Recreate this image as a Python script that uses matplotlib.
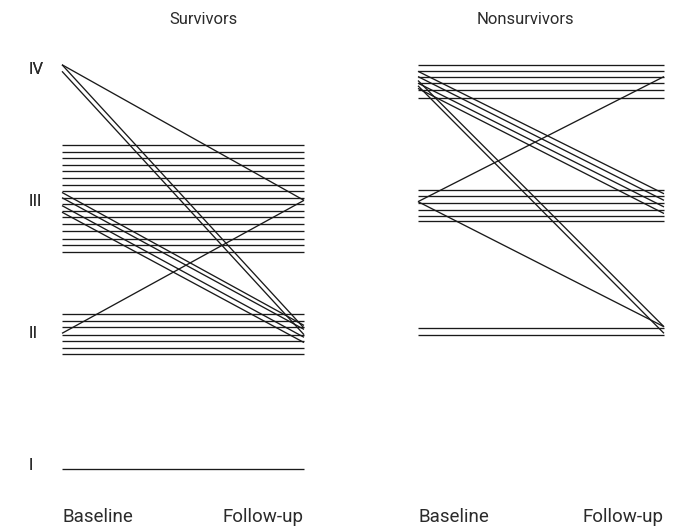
import matplotlib
matplotlib.use("Agg")
import matplotlib.pyplot as plt

plt.rcParams['font.family'] = ['Roboto', 'DejaVu Sans']

class_levels = [1, 2, 3, 4]
class_names = ['I', 'II', 'III', 'IV']
time_labels = ['Baseline', 'Follow-up']

# NYHA class per patient, baseline -> follow-up (values jittered so lines separate)
surv_base = [3.43, 3.38, 3.33, 3.28, 3.23, 3.18, 3.13, 3.08, 3.03, 2.98, 2.93,
             2.88, 2.83, 2.78, 2.72, 2.67, 2.62,
             3.07, 3.03, 2.97, 2.92,
             4.04, 4.04, 3.99,
             2.00,
             2.15, 2.09, 2.05, 1.99, 1.94, 1.89, 1.84,
             0.97]
surv_follow = [3.43, 3.38, 3.33, 3.28, 3.23, 3.18, 3.13, 3.08, 3.03, 2.98, 2.93,
               2.88, 2.83, 2.78, 2.72, 2.67, 2.62,
               2.06, 2.03, 1.97, 1.93,
               3.01, 2.04, 1.99,
               3.01,
               2.15, 2.09, 2.05, 1.99, 1.94, 1.89, 1.84,
               0.97]

nonsurv_base = [4.04, 3.99, 3.95, 3.90, 3.85, 3.79,
                3.99, 3.95, 3.90, 3.86,
                3.92, 3.88,
                3.00, 3.00,
                3.09, 3.04, 2.99, 2.94, 2.89, 2.85,
                2.04, 1.99]
nonsurv_follow = [4.04, 3.99, 3.95, 3.90, 3.85, 3.79,
                  3.06, 3.01, 2.96, 2.91,
                  2.05, 2.00,
                  3.95, 2.05,
                  3.09, 3.04, 2.99, 2.94, 2.89, 2.85,
                  2.04, 1.99]

W, H = 681, 529
TXT = '#2b2b2b'
fig = plt.figure(figsize=(W / 100, H / 100), dpi=100)

def px_to_class(y):
    return 1 + (465 - y) / 131.67

def draw_panel(left, width, base, follow, title, title_x):
    ax = fig.add_axes([left / W, 0, width / W, 1])
    ax.set_xlim(0, 1)
    ax.set_ylim(px_to_class(H), px_to_class(0))
    ax.axis('off')
    for b, f in zip(base, follow):
        ax.plot([0, 1], [b, f], color='#1a1a1a', lw=0.95, clip_on=False,
                solid_capstyle='butt')
    tick_x = (28 - left) / width
    for lev, name in zip(class_levels, class_names):
        ax.text(tick_x, lev, name, ha='left', va='center', fontsize=12,
                color=TXT)
    ax.text(0, px_to_class(517), time_labels[0], ha='left', va='center',
            fontsize=13.5, color=TXT)
    ax.text(1.0, px_to_class(517), time_labels[1], ha='right', va='center',
            fontsize=13.5, color=TXT)
    fig.text(title_x / W, 1 - 20 / H, title, ha='center', va='center',
             fontsize=12, color=TXT)
    return ax

draw_panel(62, 242, surv_base, surv_follow, 'Survivors', 203)
draw_panel(418, 246, nonsurv_base, nonsurv_follow, 'Nonsurvivors', 525)

fig.savefig('out.png', dpi=100)
